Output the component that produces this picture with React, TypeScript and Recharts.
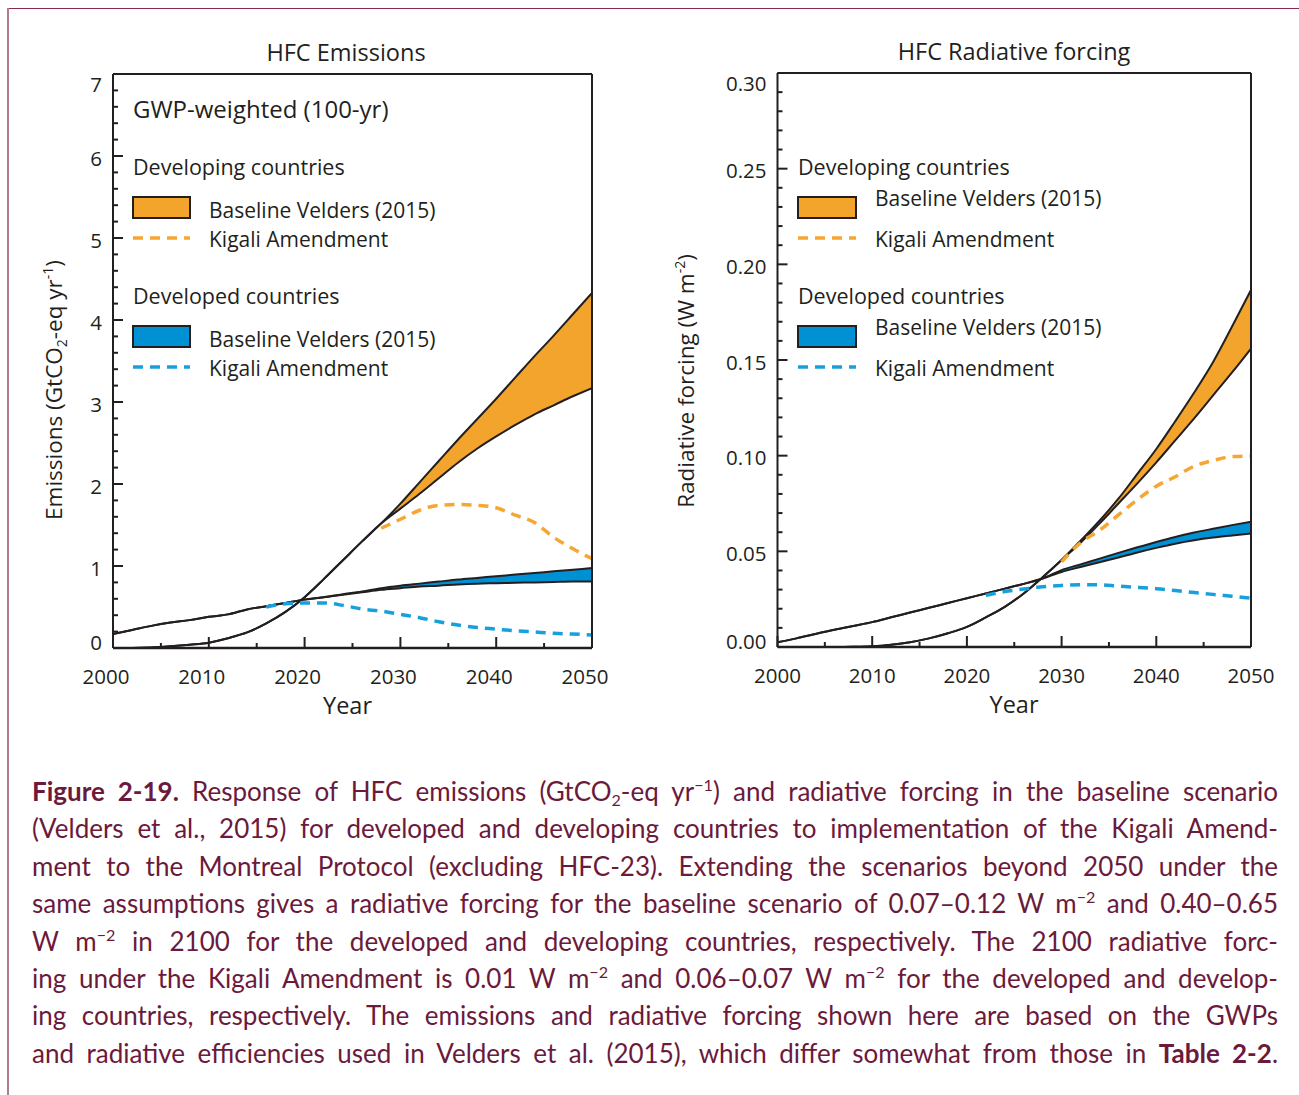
import React from "react";
import { ComposedChart, Area, Line, XAxis, YAxis } from "recharts";

const INK = "#231F20";
const ORANGE = "#F2A42C";
const BLUE = "#0090D4";
const ORANGE_DASH = "#F6A633";
const BLUE_DASH = "#17A0DE";
const CAPTION = "#6B1A3C";
const FONT = "'Open Sans', sans-serif";

// years shared by the baseline bands
const years = [
  2000, 2002, 2004, 2006, 2008, 2010, 2012, 2014, 2016, 2018, 2020, 2022, 2024,
  2026, 2028, 2030, 2032, 2034, 2036, 2038, 2040, 2042, 2044, 2046, 2048, 2050,
];

// HFC emissions, GtCO2-eq per year
const emDevelopingLow = [
  0, 0, 0.005, 0.02, 0.04, 0.065, 0.12, 0.19, 0.3, 0.44, 0.62, 0.84, 1.07, 1.3,
  1.52, 1.7, 1.88, 2.07, 2.26, 2.43, 2.58, 2.72, 2.85, 2.96, 3.07, 3.17,
];
const emDevelopingHigh = [
  0, 0, 0.005, 0.02, 0.04, 0.065, 0.12, 0.19, 0.3, 0.44, 0.62, 0.84, 1.07, 1.3,
  1.52, 1.76, 2.02, 2.28, 2.54, 2.79, 3.04, 3.3, 3.56, 3.81, 4.07, 4.33,
];
const emDevelopedLow = [
  0.17, 0.22, 0.27, 0.31, 0.34, 0.38, 0.41, 0.47, 0.51, 0.55, 0.59, 0.62, 0.65,
  0.68, 0.71, 0.73, 0.75, 0.76, 0.775, 0.785, 0.79, 0.795, 0.8, 0.805, 0.81, 0.81,
];
const emDevelopedHigh = [
  0.17, 0.22, 0.27, 0.31, 0.34, 0.38, 0.41, 0.47, 0.51, 0.55, 0.59, 0.62, 0.655,
  0.69, 0.73, 0.76, 0.785, 0.81, 0.835, 0.855, 0.875, 0.895, 0.915, 0.935, 0.955, 0.975,
];
const emKigaliDevelopingYears = [2028, 2030, 2032, 2034, 2036, 2038, 2040, 2042, 2044, 2046, 2048, 2050];
const emKigaliDeveloping = [1.46, 1.57, 1.68, 1.74, 1.75, 1.74, 1.71, 1.62, 1.53, 1.35, 1.21, 1.09];
const emKigaliDevelopedYears = [
  2016, 2018, 2020, 2022, 2024, 2026, 2028, 2030, 2032, 2034, 2036, 2038, 2040,
  2042, 2044, 2046, 2048, 2050,
];
const emKigaliDeveloped = [
  0.5, 0.54, 0.55, 0.55, 0.52, 0.475, 0.45, 0.41, 0.37, 0.32, 0.28, 0.25, 0.23,
  0.21, 0.195, 0.18, 0.17, 0.16,
];

// HFC radiative forcing, W m-2
const rfDevelopingLow = [
  0, 0, 0, 0, 0.0001, 0.0004, 0.0012, 0.0025, 0.0045, 0.0072, 0.0105, 0.0155,
  0.021, 0.028, 0.0365, 0.0455, 0.0545, 0.0645, 0.075, 0.0855, 0.0965, 0.108,
  0.1195, 0.1315, 0.1435, 0.156,
];
const rfDevelopingHigh = [
  0, 0, 0, 0, 0.0001, 0.0004, 0.0012, 0.0025, 0.0045, 0.0072, 0.0105, 0.0155,
  0.021, 0.028, 0.0365, 0.0455, 0.0555, 0.066, 0.0775, 0.0905, 0.1035, 0.118,
  0.133, 0.149, 0.1675, 0.1866,
];
const rfDevelopedLow = [
  0.0025, 0.0045, 0.0068, 0.009, 0.011, 0.013, 0.0155, 0.018, 0.0205, 0.023,
  0.0255, 0.028, 0.0305, 0.033, 0.0358, 0.0392, 0.0418, 0.0443, 0.0468, 0.0494,
  0.0518, 0.054, 0.0558, 0.0572, 0.0583, 0.0593,
];
const rfDevelopedHigh = [
  0.0025, 0.0045, 0.0068, 0.009, 0.011, 0.013, 0.0155, 0.018, 0.0205, 0.023,
  0.0255, 0.028, 0.0305, 0.033, 0.0358, 0.0402, 0.0432, 0.0462, 0.0492, 0.0521,
  0.0549, 0.0575, 0.0598, 0.0618, 0.0637, 0.0655,
];
const rfKigaliDevelopingYears = [2030, 2032, 2034, 2036, 2038, 2040, 2042, 2044, 2046, 2048, 2050];
const rfKigaliDeveloping = [0.0445, 0.0545, 0.061, 0.069, 0.077, 0.084, 0.089, 0.0945, 0.0975, 0.0995, 0.0998];
const rfKigaliDevelopedYears = [
  2022, 2024, 2026, 2028, 2030, 2032, 2034, 2036, 2038, 2040, 2042, 2044, 2046, 2048, 2050,
];
const rfKigaliDeveloped = [
  0.027, 0.029, 0.0303, 0.0315, 0.0322, 0.0326, 0.0325, 0.0318, 0.0312, 0.0305,
  0.0295, 0.0285, 0.0275, 0.0265, 0.0255,
];

// axis ticks
const xTicks = [2000, 2005, 2010, 2015, 2020, 2025, 2030, 2035, 2040, 2045, 2050];
const xLabels = [2000, 2010, 2020, 2030, 2040, 2050];
const emLabels = [0, 1, 2, 3, 4, 5, 6, 7];
const emTicks = Array.from({ length: 36 }, (_, i) => +(i * 0.2).toFixed(1));
const rfLabels = [0, 0.05, 0.1, 0.15, 0.2, 0.25, 0.3];
const rfTicks = Array.from({ length: 31 }, (_, i) => +(i * 0.01).toFixed(2));

const band = (xs: number[], lo: number[], hi: number[]) =>
  xs.map((year, i) => ({ year, range: [lo[i], hi[i]] }));
const series = (xs: number[], v: number[]) => xs.map((year, i) => ({ year, v: v[i] }));

const isIn = (list: number[], v: number) => list.some((l) => Math.abs(l - v) < 1e-9);

type PanelProps = {
  left: number;
  width: number;
  height: number;
  margin: { top: number; right: number; bottom: number; left: number };
  yMax: number;
  yTicks: number[];
  yLabels: number[];
  yFormat: (v: number) => string;
  xLabelShift: number;
  bands: { data: any[]; fill: string }[];
  lines: { data: any[]; stroke: string }[];
};

function Panel(p: PanelProps) {
  const tickText = {
    fontFamily: FONT,
    fontSize: 20.5,
    fill: INK,
  };
  const bottomTick = ({ x, y, payload }: any) => {
    const major = isIn(xLabels, payload.value);
    return (
      <g>
        <line x1={x} x2={x} y1={y} y2={y - (major ? 11 : 5)} stroke={INK} strokeWidth={2} />
        {major && (
          <text x={x + p.xLabelShift} y={y + 36} textAnchor="middle" {...tickText}>
            {payload.value}
          </text>
        )}
      </g>
    );
  };
  const topTick = ({ x, y, payload }: any) => {
    const major = isIn(xLabels, payload.value);
    return <line x1={x} x2={x} y1={y} y2={y + (major ? 11 : 5)} stroke={INK} strokeWidth={2} />;
  };
  const leftTick = ({ x, y, payload }: any) => {
    const v = payload.value;
    const major = isIn(p.yLabels, v);
    let shift = 2;
    if (Math.abs(v - p.yMax) < 1e-9) shift = 10;
    if (v === 0) shift = -6;
    return (
      <g>
        <line x1={x} x2={x + (major ? 10 : 5)} y1={y} y2={y} stroke={INK} strokeWidth={2} />
        {major && (
          <text x={x - 11} y={y + shift + 7.5} textAnchor="end" {...tickText}>
            {p.yFormat(v)}
          </text>
        )}
      </g>
    );
  };
  const rightTick = ({ x, y, payload }: any) => {
    const major = isIn(p.yLabels, payload.value);
    return <line x1={x} x2={x - (major ? 10 : 5)} y1={y} y2={y} stroke={INK} strokeWidth={2} />;
  };
  const axisLine = { stroke: INK, strokeWidth: 2 };

  return (
    <div style={{ position: "absolute", left: p.left, top: 0 }}>
      <ComposedChart width={p.width} height={p.height} margin={p.margin}>
        <XAxis
          xAxisId={0}
          dataKey="year"
          type="number"
          domain={[2000, 2050]}
          ticks={xTicks}
          interval={0}
          height={40}
          tickSize={0}
          tickMargin={0}
          tickLine={false}
          axisLine={{ stroke: INK, strokeWidth: 2.5 }}
          tick={bottomTick}
          allowDataOverflow
        />
        <XAxis
          xAxisId="top"
          orientation="top"
          dataKey="year"
          type="number"
          domain={[2000, 2050]}
          ticks={xTicks}
          interval={0}
          height={1}
          tickSize={0}
          tickMargin={0}
          tickLine={false}
          axisLine={axisLine}
          tick={topTick}
        />
        <YAxis
          yAxisId={0}
          type="number"
          domain={[0, p.yMax]}
          ticks={p.yTicks}
          interval={0}
          width={60}
          tickSize={0}
          tickMargin={0}
          tickLine={false}
          axisLine={axisLine}
          tick={leftTick}
          allowDataOverflow
        />
        <YAxis
          yAxisId="right"
          orientation="right"
          type="number"
          domain={[0, p.yMax]}
          ticks={p.yTicks}
          interval={0}
          width={1}
          tickSize={0}
          tickMargin={0}
          tickLine={false}
          axisLine={axisLine}
          tick={rightTick}
        />
        {p.bands.map((b, i) => (
          <Area
            key={"b" + i}
            data={b.data}
            dataKey="range"
            type="monotone"
            fill={b.fill}
            fillOpacity={1}
            stroke={INK}
            strokeWidth={2}
            isAnimationActive={false}
            dot={false}
            activeDot={false}
          />
        ))}
        {p.lines.map((l, i) => (
          <Line
            key={"l" + i}
            data={l.data}
            dataKey="v"
            type="monotone"
            stroke={l.stroke}
            strokeWidth={3.5}
            strokeDasharray="10 7"
            dot={false}
            activeDot={false}
            isAnimationActive={false}
          />
        ))}
      </ComposedChart>
    </div>
  );
}

function LegendSet({ x, textX, y, boxW, rows }: any) {
  // each row: header, swatch box with label, dash with label
  const t = { fontFamily: FONT, fill: INK };
  return (
    <g>
      {rows.map((r: any, i: number) => (
        <g key={i}>
          <text x={x} y={y + r.dy} fontSize={21.5} {...t}>
            {r.header}
          </text>
          <rect x={x} y={y + r.dy + 22} width={boxW} height={21} fill={r.fill} stroke={INK} strokeWidth={2} />
          <text x={textX} y={y + r.dy + r.labelDy} fontSize={21} {...t}>
            Baseline Velders (2015)
          </text>
          <line
            x1={x}
            x2={x + boxW}
            y1={y + r.dy + 63}
            y2={y + r.dy + 63}
            stroke={r.dash}
            strokeWidth={3.5}
            strokeDasharray="10 7"
          />
          <text x={textX} y={y + r.dy + 72} fontSize={21} {...t}>
            Kigali Amendment
          </text>
        </g>
      ))}
    </g>
  );
}

const sup = { fontSize: "0.62em", verticalAlign: "0.6em", lineHeight: 0 } as const;
const sub = { fontSize: "0.62em", verticalAlign: "-0.3em", lineHeight: 0 } as const;

const captionLines: React.ReactNode[] = [
  <>
    <b>Figure 2-19.</b> Response of HFC emissions (GtCO<span style={sub}>2</span>-eq yr
    <span style={sup}>−1</span>) and radiative forcing in the baseline scenario
  </>,
  <>(Velders et al., 2015) for developed and developing countries to implementation of the Kigali Amend-</>,
  <>ment to the Montreal Protocol (excluding HFC-23). Extending the scenarios beyond 2050 under the</>,
  <>
    same assumptions gives a radiative forcing for the baseline scenario of 0.07–0.12 W m
    <span style={sup}>−2</span> and 0.40–0.65
  </>,
  <>
    W m<span style={sup}>−2</span> in 2100 for the developed and developing countries, respectively. The 2100 radiative forc-
  </>,
  <>
    ing under the Kigali Amendment is 0.01 W m<span style={sup}>−2</span> and 0.06–0.07 W m
    <span style={sup}>−2</span> for the developed and develop-
  </>,
  <>ing countries, respectively. The emissions and radiative forcing shown here are based on the GWPs</>,
  <>
    and radiative efficiencies used in Velders et al. (2015), which differ somewhat from those in{" "}
    <b>Table 2-2</b>.
  </>,
];

export default function App() {
  const t = { fontFamily: FONT, fill: INK };
  return (
    <div
      style={{
        position: "absolute",
        left: 0,
        top: 0,
        width: 1299,
        height: 1095,
        background: "#fff",
        overflow: "hidden",
      }}
    >
      <div style={{ position: "absolute", left: 8, top: 8, width: 1291, height: 1, background: "#8A2A52" }} />
      <div style={{ position: "absolute", left: 7, top: 8, width: 2, height: 1087, background: "#B07A92" }} />

      <Panel
        left={0}
        width={650}
        height={740}
        margin={{ top: 73, right: 57, bottom: 52, left: 53 }}
        yMax={7}
        yTicks={emTicks}
        yLabels={emLabels}
        yFormat={(v) => String(v)}
        xLabelShift={-7}
        bands={[
          { data: band(years, emDevelopingLow, emDevelopingHigh), fill: ORANGE },
          { data: band(years, emDevelopedLow, emDevelopedHigh), fill: BLUE },
        ]}
        lines={[
          { data: series(emKigaliDevelopingYears, emKigaliDeveloping), stroke: ORANGE_DASH },
          { data: series(emKigaliDevelopedYears, emKigaliDeveloped), stroke: BLUE_DASH },
        ]}
      />
      <Panel
        left={650}
        width={649}
        height={740}
        margin={{ top: 72, right: 47, bottom: 53, left: 67.5 }}
        yMax={0.3}
        yTicks={rfTicks}
        yLabels={rfLabels}
        yFormat={(v) => v.toFixed(2)}
        xLabelShift={0}
        bands={[
          { data: band(years, rfDevelopingLow, rfDevelopingHigh), fill: ORANGE },
          { data: band(years, rfDevelopedLow, rfDevelopedHigh), fill: BLUE },
        ]}
        lines={[
          { data: series(rfKigaliDevelopingYears, rfKigaliDeveloping), stroke: ORANGE_DASH },
          { data: series(rfKigaliDevelopedYears, rfKigaliDeveloped), stroke: BLUE_DASH },
        ]}
      />

      <svg
        width={1299}
        height={740}
        style={{ position: "absolute", left: 0, top: 0, pointerEvents: "none" }}
      >
        <text x={346} y={61} textAnchor="middle" fontSize={23.5} {...t}>
          HFC Emissions
        </text>
        <text x={1014} y={60} textAnchor="middle" fontSize={23.5} {...t}>
          HFC Radiative forcing
        </text>
        <text x={347.5} y={714} textAnchor="middle" fontSize={23.5} {...t}>
          Year
        </text>
        <text x={1014} y={713} textAnchor="middle" fontSize={23.5} {...t}>
          Year
        </text>
        <text transform="translate(62,390) rotate(-90)" textAnchor="middle" fontSize={22.5} {...t}>
          Emissions (GtCO
          <tspan fontSize={14} dy={5}>
            2
          </tspan>
          <tspan dy={-5}>-eq yr</tspan>
          <tspan fontSize={14} dy={-9}>
            -1
          </tspan>
          <tspan dy={9}>)</tspan>
        </text>
        <text transform="translate(694,381) rotate(-90)" textAnchor="middle" fontSize={22.5} {...t}>
          Radiative forcing (W m
          <tspan fontSize={14} dy={-9}>
            -2
          </tspan>
          <tspan dy={9}>)</tspan>
        </text>

        <text x={133} y={118} fontSize={24} {...t}>
          GWP-weighted (100-yr)
        </text>
        <LegendSet
          x={133}
          textX={209}
          y={175}
          boxW={57}
          rows={[
            { header: "Developing countries", fill: ORANGE, dash: ORANGE_DASH, labelDy: 43, dy: 0 },
            { header: "Developed countries", fill: BLUE, dash: BLUE_DASH, labelDy: 43, dy: 129 },
          ]}
        />
        <LegendSet
          x={798}
          textX={875}
          y={175}
          boxW={58}
          rows={[
            { header: "Developing countries", fill: ORANGE, dash: ORANGE_DASH, labelDy: 31, dy: 0 },
            { header: "Developed countries", fill: BLUE, dash: BLUE_DASH, labelDy: 31, dy: 129 },
          ]}
        />
      </svg>

      <div
        style={{
          position: "absolute",
          left: 32,
          top: 773,
          width: 1246,
          fontFamily: "Lato, sans-serif",
          fontSize: 26,
          lineHeight: "37.4px",
          color: CAPTION,
        }}
      >
        {captionLines.map((line, i) => (
          <div
            key={i}
            style={{ textAlign: "justify", textAlignLast: "justify", whiteSpace: "nowrap", height: 37.4 }}
          >
            {line}
          </div>
        ))}
      </div>
    </div>
  );
}
